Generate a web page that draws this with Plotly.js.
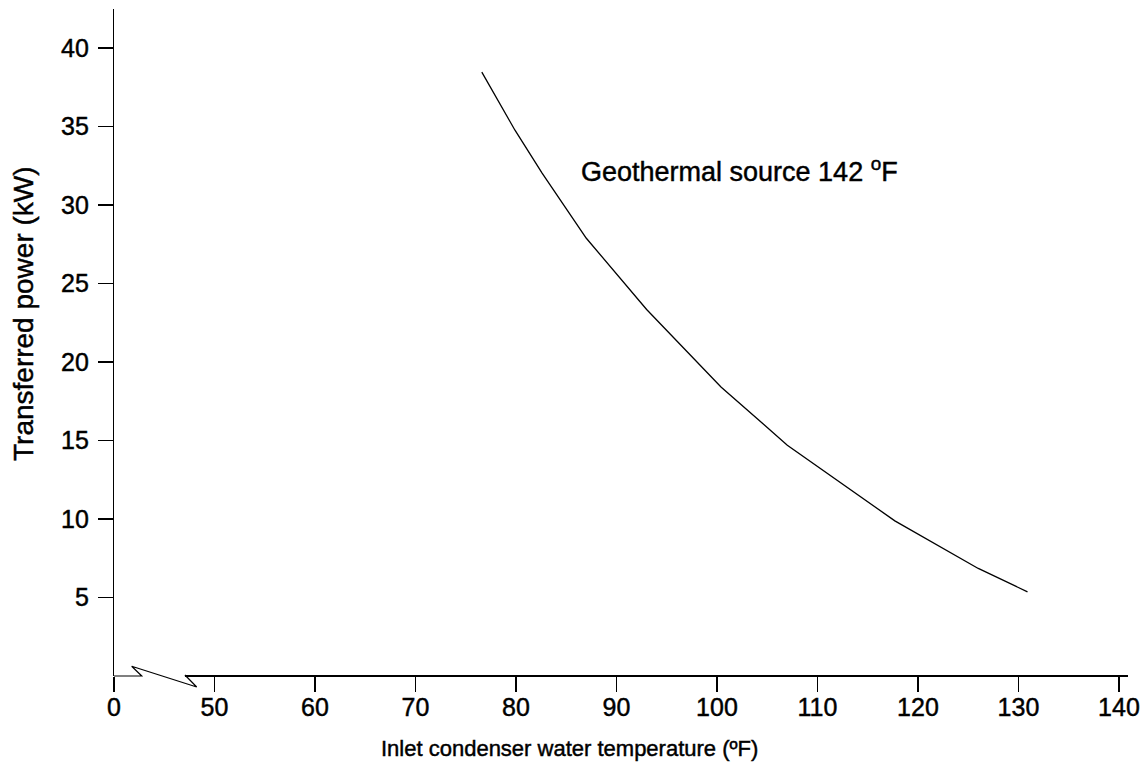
<!DOCTYPE html>
<html>
<head>
<meta charset="utf-8">
<script src="https://cdn.plot.ly/plotly-3.0.1.min.js"></script>
<style>
html,body{margin:0;padding:0;background:#fff;}
#chart{width:1143px;height:765px;}
#chart text{stroke:#000;stroke-width:0.45px;}
</style>
</head>
<body>
<div id="chart"></div>
<script>
// Data
const temperature = [76.6, 79.9, 82.6, 87.0, 93.0, 100.4, 107.0, 117.7, 126.0, 130.9];
const power       = [38.46, 34.76, 32.03, 27.88, 23.34, 18.41, 14.70, 9.88, 6.85, 5.36];
const xTickVals   = [40, 50, 60, 70, 80, 90, 100, 110, 120, 130, 140];
const xTickText   = ["0", "50", "60", "70", "80", "90", "100", "110", "120", "130", "140"];
const yTickVals   = [5, 10, 15, 20, 25, 30, 35, 40];
const seriesLabel = "Geothermal source 142 <sup>o</sup>F";
const xTitle      = "Inlet condenser water temperature (ºF)";
const yTitle      = "Transferred power (kW)";

const W = 1143, H = 765;
const M = {l: 114, r: 15, t: 9, b: 89};
const xr = [40, 140.9], yr = [0, 42.48];
const pw = W - M.l - M.r, ph = H - M.t - M.b;
// pixel -> paper helpers for the axis-break decoration and titles
const px2p = px => (px - M.l) / pw;
const py2p = py => (H - M.b - py) / ph;
const xd2p = x => (x - xr[0]) / (xr[1] - xr[0]);

const font = "Liberation Sans, Arial, sans-serif";
const y0 = H - M.b; // pixel row of y=0

const brk = [
  [xd2p(40), py2p(y0)],
  [xd2p(42.76), py2p(y0)],
  [xd2p(41.76), py2p(y0 - 9.7)],
  [xd2p(48.23), py2p(y0 + 11)],
  [xd2p(47.06), py2p(y0 - 1)]
];
const brkPath = "M" + brk.map(p => p[0] + "," + p[1]).join(" L");

const trace = {
  x: temperature, y: power, type: "scatter", mode: "lines",
  line: {color: "#000", width: 1.3}, hoverinfo: "skip", showlegend: false
};

const layout = {
  width: W, height: H,
  margin: M,
  paper_bgcolor: "#fff", plot_bgcolor: "#fff",
  font: {family: font, size: 20, color: "#000"},
  xaxis: {
    range: xr, showgrid: false, zeroline: false, showline: false,
    tickmode: "array", tickvals: xTickVals, ticktext: xTickText,
    ticks: "outside", ticklen: 15, tickwidth: 1.5, tickcolor: "#000",
    ticklabelstandoff: -6,
    tickfont: {family: font, size: 25, color: "#000"}
  },
  yaxis: {
    range: yr, showgrid: false, zeroline: false, showline: true,
    linecolor: "#000", linewidth: 1.2,
    tickmode: "array", tickvals: yTickVals,
    ticks: "outside", ticklen: 15, tickwidth: 1.2, tickcolor: "#000",
    ticklabelstandoff: 4,
    tickfont: {family: font, size: 25, color: "#000"}
  },
  shapes: [
    {type: "path", xref: "paper", yref: "paper", path: brkPath,
     line: {color: "#000", width: 1.2}, layer: "above"},
    {type: "line", xref: "paper", yref: "paper",
     x0: xd2p(47.06), x1: 1, y0: 0, y1: 0,
     line: {color: "#000", width: 2}, layer: "above"}
  ],
  annotations: [
    {text: seriesLabel, xref: "x", yref: "y", x: 86.3, y: 32.2,
     xanchor: "left", yanchor: "middle", showarrow: false,
     font: {family: font, size: 27, color: "#000"}},
    {text: xTitle, xref: "paper", yref: "paper",
     x: px2p(569), y: py2p(748), xanchor: "center", yanchor: "middle", showarrow: false,
     font: {family: font, size: 22, color: "#000"}},
    {text: yTitle, xref: "paper", yref: "paper",
     x: px2p(23), y: py2p(314), xanchor: "center", yanchor: "middle", showarrow: false,
     textangle: -90,
     font: {family: font, size: 28, color: "#000"}}
  ]
};

Plotly.newPlot("chart", [trace], layout, {displayModeBar: false, staticPlot: true});
</script>
</body>
</html>
